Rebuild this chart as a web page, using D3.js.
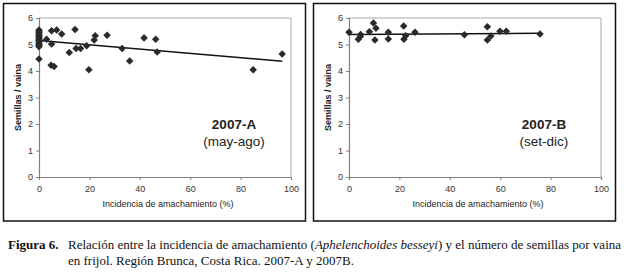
<!DOCTYPE html>
<html>
<head>
<meta charset="utf-8">
<script src="https://cdn.jsdelivr.net/npm/d3@7"></script>
<style>
  body { margin: 0; background: #fff; }
  svg { display: block; }
</style>
</head>
<body>
<svg id="chart" width="628" height="277"></svg>
<script>
// 2007-A (may-ago): incidence (%) and seeds per pod
const incidenceA = [0, 0, 0, 0, 0, 0, 0, 0, 0, 0, 0, 0, 0, 0, 0,
  3, 5, 5, 4.8, 6, 7, 9, 12, 14.3, 14.7, 16.5, 18.9, 19.8, 21.9, 22.3,
  27, 33, 36, 41.7, 46.3, 46.9, 85, 96.5];
const seedsA = [5.55, 5.5, 5.45, 5.4, 5.35, 5.3, 5.25, 5.2, 5.15, 5.1, 5.05, 5.0, 4.95, 4.92, 4.45,
  5.2, 5.52, 5.02, 4.22, 4.17, 5.55, 5.4, 4.7, 5.57, 4.85, 4.85, 4.95, 4.05, 5.17, 5.33,
  5.35, 4.85, 4.38, 5.25, 5.2, 4.72, 4.05, 4.64];
// trend line end points
const trendXA = [0, 96.5];
const trendYA = [5.15, 4.37];

// 2007-B (set-dic)
const incidenceB = [0, 3.7, 4.5, 4.6, 8.1, 9.7, 10.7, 10.3, 15.6, 15.6, 21.7, 21.8, 22.5, 26.2,
  45.8, 54.9, 54.9, 56.3, 59.9, 62.4, 75.8];
const seedsB = [5.46, 5.2, 5.3, 5.38, 5.48, 5.81, 5.61, 5.17, 5.46, 5.21, 5.7, 5.2, 5.33, 5.46,
  5.37, 5.67, 5.17, 5.32, 5.5, 5.5, 5.4];
const trendXB = [0, 75.8];
const trendYB = [5.38, 5.42];

const xTicks = [0, 20, 40, 60, 80, 100];
const yTicks = [0, 1, 2, 3, 4, 5, 6];

const svg = d3.select('#chart');

function drawPanel(left, xs, ys, tx, ty, label1, label2) {
  const g = svg.append('g').attr('transform', `translate(${left},0)`);

  // outer frame
  g.append('rect')
    .attr('x', 3.5).attr('y', 3.5)
    .attr('width', 302).attr('height', 217.5)
    .attr('fill', 'none')
    .attr('stroke', '#111')
    .attr('stroke-width', 1.5);

  const x = d3.scaleLinear().domain([0, 100]).range([39, 291]);
  const y = d3.scaleLinear().domain([0, 6]).range([177, 18]);

  // plot area border (top + right light grey)
  g.append('path')
    .attr('d', `M${x(0)},${y(6)}H${x(100)}V${y(0)}`)
    .attr('fill', 'none')
    .attr('stroke', '#a8a8a8')
    .attr('stroke-width', 1);

  // axes
  const yAxis = g.append('g')
    .attr('transform', `translate(${x(0)},0)`)
    .call(d3.axisLeft(y).tickValues(yTicks).tickFormat(d3.format('d')).tickSize(3).tickPadding(3));
  const xAxis = g.append('g')
    .attr('transform', `translate(0,${y(0)})`)
    .call(d3.axisBottom(x).tickValues(xTicks).tickFormat(d3.format('d')).tickSize(3).tickPadding(6));
  [xAxis, yAxis].forEach(a => {
    a.select('.domain').attr('stroke', '#808080').attr('stroke-width', 1.2);
    a.selectAll('.tick line').attr('stroke', '#808080');
    a.selectAll('.tick text')
      .attr('fill', '#333')
      .style('font-family', 'Liberation Sans, Arial, sans-serif')
      .style('font-size', '9px');
  });

  // axis titles
  g.append('text')
    .attr('x', 168).attr('y', 207)
    .attr('text-anchor', 'middle')
    .style('font-family', 'Liberation Sans, Arial, sans-serif')
    .style('font-size', '9px')
    .attr('fill', '#222')
    .text('Incidencia de amachamiento (%)');
  g.append('text')
    .attr('transform', `translate(21,${(y(0) + y(6)) / 2}) rotate(-90)`)
    .attr('text-anchor', 'middle')
    .style('font-family', 'Liberation Sans, Arial, sans-serif')
    .style('font-size', '9px')
    .style('font-weight', 'bold')
    .attr('fill', '#222')
    .text('Semillas / vaina');

  // trend line
  const line = d3.line().x(d => x(d[0])).y(d => y(d[1]));
  g.append('path')
    .datum(tx.map((v, i) => [v, ty[i]]))
    .attr('d', line)
    .attr('fill', 'none')
    .attr('stroke', '#111')
    .attr('stroke-width', 1.5);

  // points (diamonds)
  const diamond = d3.symbol().type(d3.symbolDiamond2).size(36);
  g.append('g')
    .selectAll('path')
    .data(xs.map((v, i) => [v, ys[i]]))
    .enter()
    .append('path')
    .attr('d', diamond)
    .attr('transform', d => `translate(${x(d[0])},${y(d[1])})`)
    .attr('fill', '#2a2a2a');

  // season label
  g.append('text')
    .attr('x', 234).attr('y', 129)
    .attr('text-anchor', 'middle')
    .style('font-family', 'Liberation Sans, Arial, sans-serif')
    .style('font-size', '13.5px')
    .style('font-weight', 'bold')
    .attr('fill', '#222')
    .text(label1);
  g.append('text')
    .attr('x', 234).attr('y', 146)
    .attr('text-anchor', 'middle')
    .style('font-family', 'Liberation Sans, Arial, sans-serif')
    .style('font-size', '13.5px')
    .attr('fill', '#222')
    .text(label2);
}

drawPanel(0, incidenceA, seedsA, trendXA, trendYA, '2007-A', '(may-ago)');
drawPanel(310, incidenceB, seedsB, trendXB, trendYB, '2007-B', '(set-dic)');

// caption
const cap = svg.append('g')
  .style('font-family', '"Liberation Serif", "Times New Roman", serif')
  .style('font-size', '13px')
  .attr('fill', '#111');
cap.append('text').attr('x', 8).attr('y', 249)
  .style('font-weight', 'bold').text('Figura 6.');
const l1 = cap.append('text').attr('x', 68).attr('y', 249);
l1.append('tspan').text('Relación entre la incidencia de amachamiento (');
l1.append('tspan').style('font-style', 'italic').text('Aphelenchoides besseyi');
l1.append('tspan').text(') y el número de semillas por vaina');
cap.append('text').attr('x', 68).attr('y', 265)
  .text('en frijol. Región Brunca, Costa Rica. 2007-A y 2007B.');
</script>
</body>
</html>
